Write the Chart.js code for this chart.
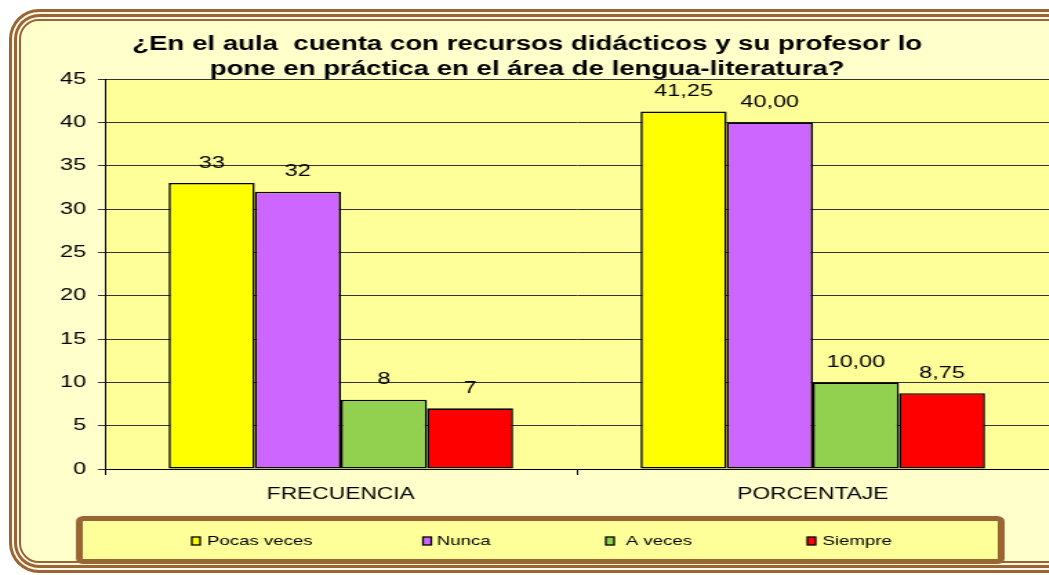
<!DOCTYPE html>
<html>
<head>
<meta charset="utf-8">
<script src="https://cdn.jsdelivr.net/npm/chart.js@4.4.1/dist/chart.umd.min.js"></script>
<style>
  body { margin: 0; background: #ffffff; overflow: hidden; }
  #frame {
    position: absolute; left: 19px; top: 19px; width: 1100px; height: 544px;
    box-sizing: border-box;
    background: #FFFFCC;
    border: 2px solid #996633;
    border-radius: 20px;
    box-shadow: 0 0 0 2px #FFF8E6, 0 0 0 5px #996633, 0 0 0 7px #FFF8E6, 0 0 0 10px #996633;
  }
  /* the original picture is stretched sideways, so the canvas is too */
  #chart { position: absolute; left: 0; top: 0; transform: scaleX(1.38); transform-origin: 0 0; }
</style>
</head>
<body>
<div id="frame"></div>
<canvas id="chart" width="760" height="575"></canvas>
<script>
var categories = ["FRECUENCIA", "PORCENTAJE"]
var seriesNames = ["Pocas veces", "Nunca", "A veces", "Siempre"]
var pocasVeces = [33, 41.25]
var nunca = [32, 40]
var aVeces = [8, 10]
var siempre = [7, 8.75]
var colors = ["#FFFF00", "#CC66FF", "#92D050", "#FF0000"]

var FONT = "'Liberation Sans', Arial, sans-serif"

function fmt(v, i) {
  if (i == 0) return String(v)
  return v.toFixed(2).replace(".", ",")
}

// yellow fill behind the bars
var plotBg = {
  id: "plotBg",
  beforeDraw: function(chart) {
    var a = chart.chartArea
    var ctx = chart.ctx
    ctx.save()
    ctx.fillStyle = "#FFFF99"
    ctx.fillRect(a.left, a.top, a.right - a.left, a.bottom - a.top)
    ctx.restore()
  }
}

// value labels above every bar
var valueLabels = {
  id: "valueLabels",
  afterDatasetsDraw: function(chart) {
    var ctx = chart.ctx
    ctx.save()
    ctx.font = "17px " + FONT
    ctx.fillStyle = "#000"
    ctx.textAlign = "center"
    ctx.textBaseline = "middle"
    chart.data.datasets.forEach(function(ds, d) {
      chart.getDatasetMeta(d).data.forEach(function(bar, i) {
        ctx.fillText(fmt(ds.data[i], i), bar.x, bar.y - 20)
      })
    })
    ctx.restore()
  }
}

// boxed legend at the bottom
var boxLegend = {
  id: "boxLegend",
  afterDraw: function(chart) {
    var ctx = chart.ctx
    ctx.save()
    ctx.fillStyle = "#FFFF99"
    ctx.strokeStyle = "#996633"
    ctx.lineWidth = 5
    ctx.beginPath()
    ctx.roundRect(57.5, 518.5, 668, 43, 3)
    ctx.fill()
    ctx.stroke()
    var xs = [139, 306.5, 439, 585]
    var gaps = [11, 10, 14.5, 11]
    ctx.font = "13.5px " + FONT
    ctx.textBaseline = "middle"
    ctx.textAlign = "left"
    chart.data.datasets.forEach(function(ds, d) {
      ctx.fillStyle = ds.backgroundColor
      ctx.fillRect(xs[d], 537, 6, 8)
      ctx.lineWidth = 1.3
      ctx.strokeStyle = "#000"
      ctx.strokeRect(xs[d], 537, 6, 8)
      ctx.fillStyle = "#000"
      ctx.fillText(ds.label, xs[d] + gaps[d], 541)
    })
    ctx.restore()
  }
}

var values = [pocasVeces, nunca, aVeces, siempre]
var datasets = []
for (let i = 0; i < seriesNames.length; i++) {
  datasets.push({
    label: seriesNames[i],
    data: values[i],
    backgroundColor: colors[i],
    borderColor: "#000",
    borderWidth: 1.6,
    borderSkipped: false,
    categoryPercentage: 0.73,
    barPercentage: 1
  })
}

var ctx = document.getElementById("chart").getContext("2d")
var myChart = new Chart(ctx, {
  type: "bar",
  data: { labels: categories, datasets: datasets },
  plugins: [plotBg, valueLabels, boxLegend],
  options: {
    responsive: false,
    animation: false,
    layout: { padding: { left: 4, right: 0, top: 0, bottom: 66 } },
    plugins: {
      legend: { display: false },
      tooltip: { enabled: false },
      title: {
        display: true,
        text: ["¿En el aula  cuenta con recursos didácticos y su profesor lo",
               "pone en práctica en el área de lengua-literatura?"],
        color: "#000",
        font: { family: FONT, size: 20, weight: "bold", lineHeight: 1.25 },
        padding: { top: 32, bottom: -3 }
      }
    },
    scales: {
      y: {
        min: 0,
        max: 45,
        ticks: { stepSize: 5, color: "#000", padding: 8.5, font: { family: FONT, size: 17 } },
        grid: { color: "#333", lineWidth: 1, tickLength: 5 },
        border: { color: "#000", width: 1 },
        afterFit: function(scale) { scale.width = 72 }
      },
      x: {
        ticks: { color: "#000", padding: 10, font: { family: FONT, size: 16.5 } },
        grid: { drawOnChartArea: false, color: "#000", tickLength: 6 },
        border: { color: "#000", width: 1 },
        afterFit: function(scale) { scale.height = 40 }
      }
    }
  }
})
</script>
</body>
</html>
